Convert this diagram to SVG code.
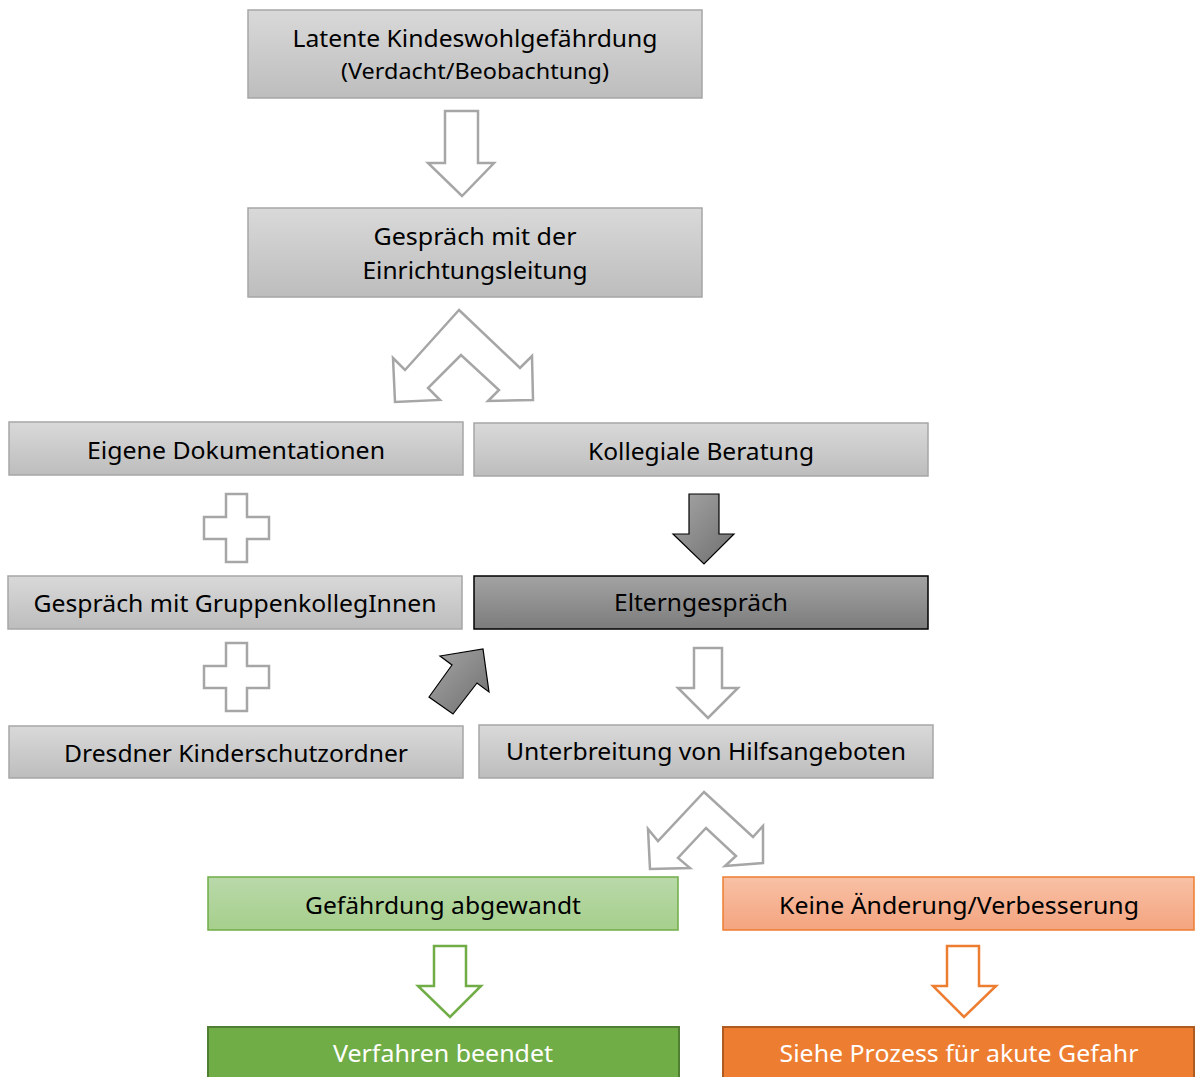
<svg xmlns="http://www.w3.org/2000/svg" width="1202" height="1077" viewBox="0 0 1202 1077">
<defs>
<linearGradient id="gGray" x1="0" y1="0" x2="0" y2="1"><stop offset="0" stop-color="#d9d9d9"/><stop offset="1" stop-color="#bdbdbd"/></linearGradient>
<linearGradient id="gDark" x1="0" y1="0" x2="0" y2="1"><stop offset="0" stop-color="#a3a3a3"/><stop offset="1" stop-color="#7c7c7c"/></linearGradient>
<linearGradient id="gArrow" x1="0" y1="0" x2="1" y2="1"><stop offset="0" stop-color="#a6a6a6"/><stop offset="1" stop-color="#6f6f6f"/></linearGradient>
<linearGradient id="gGreen" x1="0" y1="0" x2="0" y2="1"><stop offset="0" stop-color="#b9d9aa"/><stop offset="1" stop-color="#a6cf8c"/></linearGradient>
<linearGradient id="gOrange" x1="0" y1="0" x2="0" y2="1"><stop offset="0" stop-color="#f8c1a6"/><stop offset="1" stop-color="#f4a47f"/></linearGradient>
</defs>
<style>
text{font-family:"Noto Sans","Open Sans","Liberation Sans",sans-serif;font-size:24px;fill:#000;text-anchor:middle}
.gray{fill:url(#gGray);stroke:#a6a6a6;stroke-width:1.5}
.dark{fill:url(#gDark);stroke:#000;stroke-width:1.5}
.hollow{fill:#fff;stroke:#a6a6a6;stroke-width:2.5;stroke-linejoin:miter}
.solidArrow{fill:url(#gArrow);stroke:#000;stroke-width:1.2}
.white{fill:#fff}
</style>
<rect width="1202" height="1077" fill="#fff"/>

<g id="n1"><rect class="gray" x="248" y="10" width="454" height="88"/>
<text x="475" y="47" textLength="365" lengthAdjust="spacingAndGlyphs">Latente Kindeswohlgefährdung</text>
<text x="475" y="79" font-size="22" textLength="268" lengthAdjust="spacingAndGlyphs" style="font-size:22px">(Verdacht/Beobachtung)</text></g>

<g id="n2"><rect class="gray" x="248" y="208" width="454" height="89"/>
<text x="475" y="245" textLength="203" lengthAdjust="spacingAndGlyphs">Gespräch mit der</text>
<text x="475" y="279" textLength="225" lengthAdjust="spacingAndGlyphs">Einrichtungsleitung</text></g>

<g id="n3"><rect class="gray" x="9" y="422" width="454" height="53"/>
<text x="236" y="459" textLength="298" lengthAdjust="spacingAndGlyphs">Eigene Dokumentationen</text></g>

<g id="n4"><rect class="gray" x="474" y="423" width="454" height="53"/>
<text x="701" y="460" textLength="226" lengthAdjust="spacingAndGlyphs">Kollegiale Beratung</text></g>

<g id="n5"><rect class="gray" x="8" y="576" width="454" height="53"/>
<text x="235" y="612" textLength="403" lengthAdjust="spacingAndGlyphs">Gespräch mit GruppenkollegInnen</text></g>

<g id="n6"><rect class="dark" x="474" y="576" width="454" height="53"/>
<text x="701" y="611" textLength="174" lengthAdjust="spacingAndGlyphs">Elterngespräch</text></g>

<g id="n7"><rect class="gray" x="9" y="726" width="454" height="52"/>
<text x="236" y="762" textLength="344" lengthAdjust="spacingAndGlyphs">Dresdner Kinderschutzordner</text></g>

<g id="n8"><rect class="gray" x="479" y="725" width="454" height="53"/>
<text x="706" y="760" textLength="400" lengthAdjust="spacingAndGlyphs">Unterbreitung von Hilfsangeboten</text></g>

<g id="n9"><rect x="208" y="877" width="470" height="53" fill="url(#gGreen)" stroke="#70ad47" stroke-width="1.5"/>
<text x="443" y="914" textLength="276" lengthAdjust="spacingAndGlyphs">Gefährdung abgewandt</text></g>

<g id="n10"><rect x="723" y="877" width="471" height="53" fill="url(#gOrange)" stroke="#ed7d31" stroke-width="1.5"/>
<text x="959" y="914" textLength="360" lengthAdjust="spacingAndGlyphs">Keine Änderung/Verbesserung</text></g>

<g id="n11"><rect x="208" y="1027" width="471" height="60" fill="#70ad47" stroke="#507e32" stroke-width="2"/>
<text class="white" x="443" y="1062" textLength="220" lengthAdjust="spacingAndGlyphs">Verfahren beendet</text></g>

<g id="n12"><rect x="723" y="1027" width="471" height="60" fill="#ed7d31" stroke="#ae5a21" stroke-width="2"/>
<text class="white" x="959" y="1062" textLength="359" lengthAdjust="spacingAndGlyphs">Siehe Prozess für akute Gefahr</text></g>

<g id="connectors">
<polygon class="hollow" points="445,111 478,111 478,163 494,163 462,196 428,163 445,163"/>
<polygon class="hollow" points="459,310 520,368 532,356 533,400 488,401 499,390 461,355 428,388 440,400 395,402 393,358 405,370"/>
<polygon class="hollow" points="226,494 247,494 247,517 269,517 269,539 247,539 247,562 226,562 226,539 204,539 204,517 226,517"/>
<polygon class="hollow" points="226,643 247,643 247,666 269,666 269,688 247,688 247,711 226,711 226,688 204,688 204,666 226,666"/>
<polygon class="solidArrow" points="689,494 719,494 719,534 734,534 704,564 673,534 689,534"/>
<polygon class="solidArrow" points="440,656 483,649 489,692 477,683 453,714 429,697 452,665"/>
<polygon class="hollow" points="694,648 722,648 722,688 738,688 708,718 678,688 694,688"/>
<polygon class="hollow" points="704,792 753,837 763,826 763,863 725,866 736,856 706,828 678,858 690,868 650,869 648,829 658,841"/>
<polygon points="434,946 466,946 466,986 481,986 450,1017 418,986 434,986" fill="#fff" stroke="#70ad47" stroke-width="2.5"/>
<polygon points="947,946 979,946 979,986 996,986 964,1017 933,986 947,986" fill="#fff" stroke="#ed7d31" stroke-width="2.5"/>
</g>
</svg>
